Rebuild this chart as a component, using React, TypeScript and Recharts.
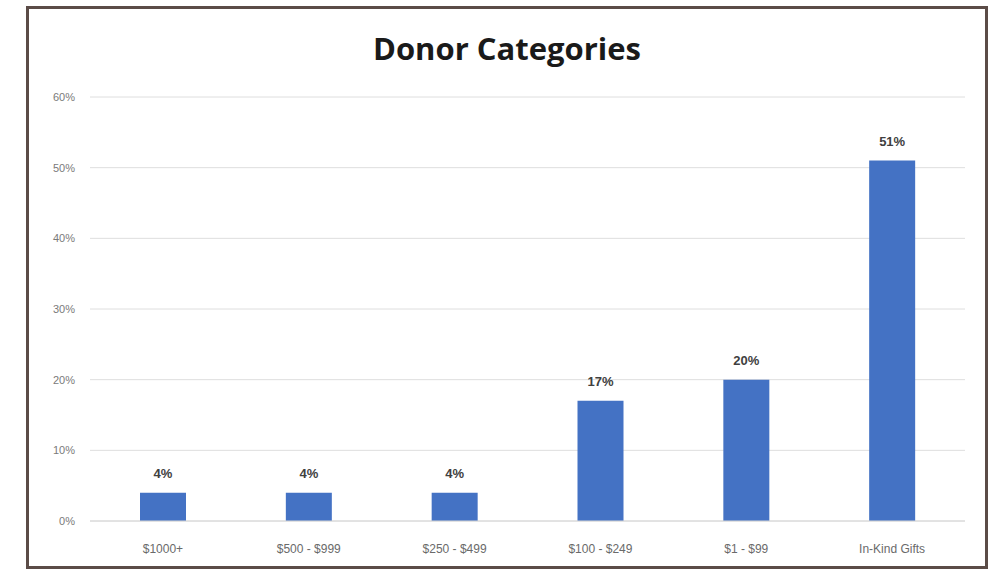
import React from "react";
import { BarChart, Bar, XAxis, YAxis, CartesianGrid, LabelList } from "recharts";

const categories = ["$1000+", "$500 - $999", "$250 - $499", "$100 - $249", "$1 - $99", "In-Kind Gifts"];
const shares = [4, 4, 4, 17, 20, 51];
const yTicks = [0, 10, 20, 30, 40, 50, 60];

const data = categories.map((c, i) => ({ name: c, value: shares[i] }));

const FONT = "'Liberation Sans', Arial, sans-serif";

export default function App() {
  return (
    <div
      style={{
        position: "absolute",
        left: 26,
        top: 6,
        width: 962,
        height: 563,
        border: "3px solid #5b4c47",
        boxSizing: "border-box",
        background: "#fff",
        fontFamily: FONT,
      }}
    >
      <div
        style={{
          position: "absolute",
          left: 0,
          right: 0,
          top: 23.5,
          textAlign: "center",
          fontSize: 31,
          lineHeight: 1,
          fontWeight: 700,
          color: "#1a1a1a",
          fontFamily: "'Open Sans', sans-serif",
        }}
      >
        Donor Categories
      </div>
      <BarChart
        width={956}
        height={557}
        data={data}
        margin={{ top: 88, right: 20, left: 0, bottom: 0 }}
        style={{ position: "absolute", left: 0, top: 0 }}
      >
        <CartesianGrid vertical={false} stroke="#dedede" />
        <XAxis
          dataKey="name"
          tickLine={false}
          axisLine={{ stroke: "#d6d6d6" }}
          height={45}
          tickMargin={17}
          tick={{ fontSize: 12, fill: "#6a6a6a", fontFamily: FONT }}
          interval={0}
        />
        <YAxis
          width={61}
          domain={[0, 60]}
          ticks={yTicks}
          tickFormatter={(v) => `${v}%`}
          tickLine={false}
          axisLine={false}
          tickMargin={9}
          tick={{ fontSize: 11, fill: "#7a7a7a", fontFamily: FONT }}
        />
        <Bar dataKey="value" fill="#4472c4" barSize={46} isAnimationActive={false}>
          <LabelList
            dataKey="value"
            position="top"
            offset={15}
            formatter={(v) => `${v}%`}
            style={{ fontSize: 13, fontWeight: 700, fill: "#404040", fontFamily: FONT }}
          />
        </Bar>
      </BarChart>
    </div>
  );
}
